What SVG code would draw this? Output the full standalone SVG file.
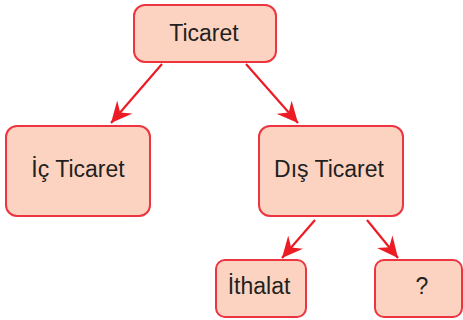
<svg xmlns="http://www.w3.org/2000/svg" width="463" height="320" viewBox="0 0 463 320">
<defs>
<style>
.box{fill:#fcd3c1;stroke:#ec3540;stroke-width:2}
.lbl{font-family:"Liberation Sans",Arial,sans-serif;font-size:23px;fill:#231f20;text-anchor:middle}
.con{stroke:#ec1c24;stroke-width:2.2;fill:none}
</style>
<marker id="ah" markerUnits="userSpaceOnUse" markerWidth="22" markerHeight="20" refX="21" refY="10" orient="auto" viewBox="0 0 22 20">
<path d="M0,0 L21,10 L0,20 L7,10 Z" fill="#ec1c24"/>
</marker>
</defs>
<g id="connectors">
<line class="con" x1="162" y1="64" x2="111" y2="123" marker-end="url(#ah)"/>
<line class="con" x1="246" y1="64" x2="298" y2="123" marker-end="url(#ah)"/>
<line class="con" x1="315" y1="220" x2="282" y2="258" marker-end="url(#ah)"/>
<line class="con" x1="367" y1="220" x2="398" y2="258" marker-end="url(#ah)"/>
</g>
<g id="ticaret">
<rect class="box" x="134" y="5" width="142" height="57" rx="11"/>
<text class="lbl" x="204" y="41">Ticaret</text>
</g>
<g id="ic-ticaret">
<rect class="box" x="6" y="126" width="144" height="90" rx="11"/>
<text class="lbl" x="78" y="177">İç Ticaret</text>
</g>
<g id="dis-ticaret">
<rect class="box" x="259" y="126" width="144" height="90" rx="11"/>
<text class="lbl" x="329" y="177">Dış Ticaret</text>
</g>
<g id="ithalat">
<rect class="box" x="216" y="260" width="90" height="57" rx="9"/>
<text class="lbl" x="259" y="294">İthalat</text>
</g>
<g id="soru">
<rect class="box" x="375" y="260" width="87" height="57" rx="9"/>
<text class="lbl" x="422" y="294">?</text>
</g>
</svg>
